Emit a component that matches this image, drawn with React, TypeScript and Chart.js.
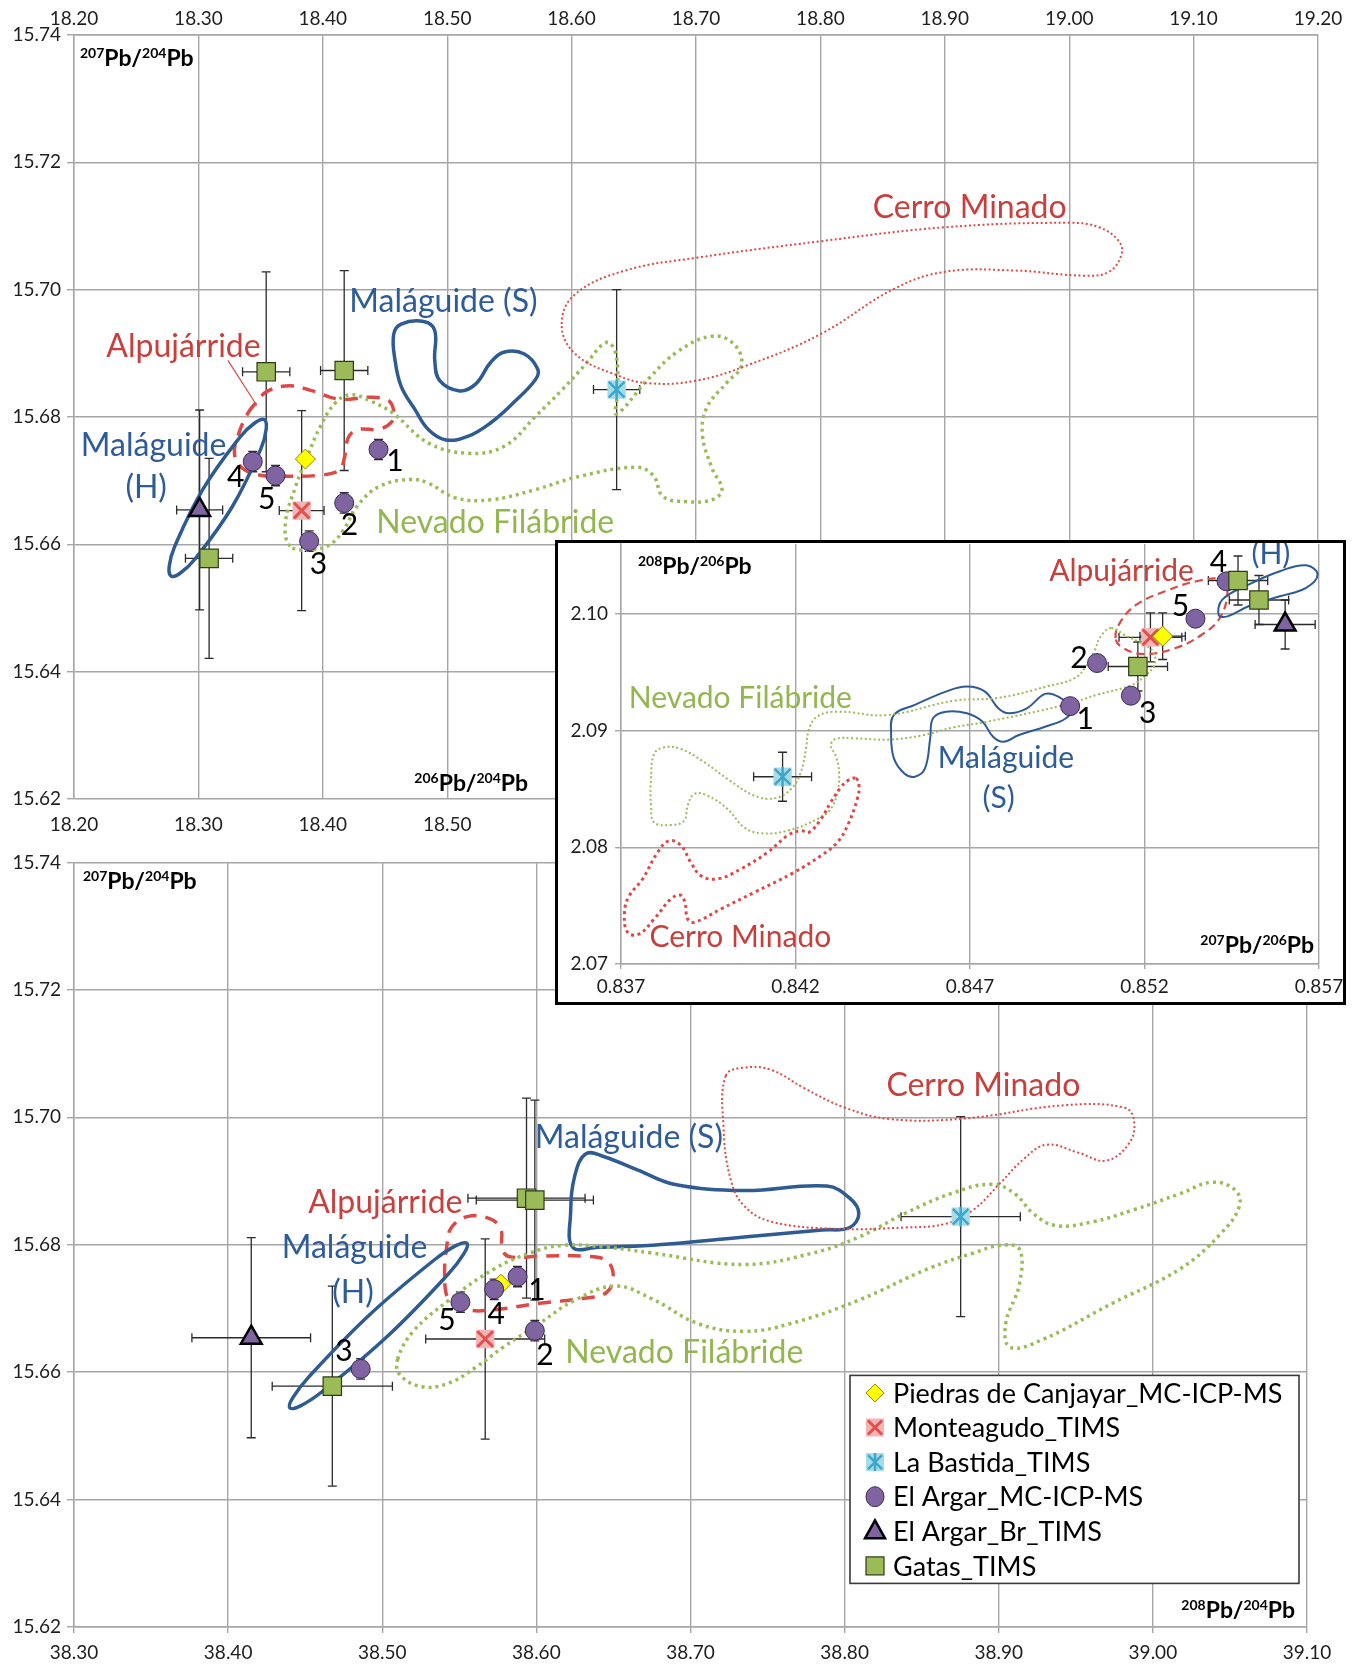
import React, { useEffect, useRef } from 'react';
import { Chart, registerables } from 'chart.js';

Chart.register(...registerables);

type Pair = [number, number];
type Obs = [number, number, number, number]; // x, y, x-error, y-error
type Lab = [string, number, number];

const FONT = 'Lato, "Open Sans", "DejaVu Sans", sans-serif';

// ================= Panel A : 206Pb/204Pb vs 207Pb/204Pb =================
const aXTicks = [18.2, 18.3, 18.4, 18.5, 18.6, 18.7, 18.8, 18.9, 19.0, 19.1, 19.2];
const aYTicks = [15.62, 15.64, 15.66, 15.68, 15.7, 15.72, 15.74];

const aPiedras: Obs[] = [[18.386, 15.6734, 0, 0]];
const aMonteagudo: Obs[] = [[18.383, 15.6653, 0.018, 0.0157]];
const aBastida: Obs[] = [[18.6362, 15.6843, 0.0186, 0.0157]];
const aArgarMC: Obs[] = [
  [18.4448, 15.6749, 0.002, 0.0016],
  [18.4172, 15.6665, 0.002, 0.0016],
  [18.389, 15.6605, 0.002, 0.0016],
  [18.3437, 15.673, 0.002, 0.0016],
  [18.362, 15.6708, 0.002, 0.0016],
];
const aArgarBr: Obs[] = [[18.301, 15.6654, 0.0185, 0.0157]];
const aGatas: Obs[] = [
  [18.3545, 15.6871, 0.019, 0.0157],
  [18.4172, 15.6873, 0.019, 0.0157],
  [18.3086, 15.6578, 0.019, 0.0157],
];

const aCerroMinado: Pair[] = [
  [18.592, 15.6946], [18.603, 15.6993], [18.643, 15.703], [18.7, 15.705], [18.8, 15.7076],
  [18.9, 15.7098], [19.0, 15.7105], [19.024, 15.7098], [19.04, 15.7076], [19.042, 15.7055],
  [19.032, 15.7028], [19.012, 15.7022], [18.957, 15.703], [18.9, 15.7028], [18.859, 15.7001],
  [18.8, 15.693], [18.741, 15.6881], [18.7, 15.6857], [18.662, 15.6853], [18.636, 15.6866],
  [18.603, 15.6899],
];
const aNevado: Pair[] = [
  [18.3738, 15.6597], [18.37, 15.6634], [18.378, 15.669], [18.387, 15.6735], [18.398, 15.6785],
  [18.41, 15.6822], [18.4222, 15.6835], [18.4384, 15.6825], [18.4563, 15.6806], [18.485, 15.6759],
  [18.517, 15.6743], [18.5459, 15.6754], [18.571, 15.6801], [18.5925, 15.6843], [18.61, 15.688],
  [18.628, 15.6917], [18.6355, 15.6899], [18.637, 15.684], [18.6362, 15.6805], [18.6618, 15.686],
  [18.6854, 15.6903], [18.713, 15.6927], [18.7307, 15.6914], [18.7366, 15.6881], [18.7248, 15.6854],
  [18.709, 15.6816], [18.7051, 15.6773], [18.713, 15.6719], [18.7209, 15.6686], [18.713, 15.667],
  [18.6933, 15.6667], [18.6736, 15.6675], [18.6657, 15.6708], [18.652, 15.6721], [18.6068, 15.6707],
  [18.571, 15.6686], [18.5351, 15.667], [18.5065, 15.6673], [18.485, 15.6696], [18.4706, 15.6702],
  [18.4455, 15.6691], [18.4276, 15.666], [18.4168, 15.6623], [18.406, 15.66], [18.3918, 15.6592],
];
const aMalaguideS: Pair[] = [
  [18.457, 15.693], [18.463, 15.6946], [18.481, 15.695], [18.49, 15.6936], [18.49, 15.6889],
  [18.494, 15.6857], [18.51, 15.6841], [18.523, 15.6852], [18.535, 15.6886], [18.546, 15.6902],
  [18.562, 15.6899], [18.5728, 15.6875], [18.571, 15.6859], [18.553, 15.6822], [18.535, 15.6791],
  [18.517, 15.677], [18.499, 15.6764], [18.485, 15.678], [18.474, 15.6812], [18.463, 15.6848],
  [18.458, 15.689],
];
const aMalaguideH: Pair[] = [
  [18.3529, 15.6796], [18.3545, 15.6781], [18.3502, 15.675], [18.3272, 15.6659], [18.2973, 15.6577],
  [18.2855, 15.6555], [18.2782, 15.655], [18.2765, 15.6565], [18.2808, 15.6596], [18.3038, 15.6687],
  [18.3337, 15.6769], [18.3455, 15.6791],
];
const aAlpujarride: Pair[] = [
  [18.3398, 15.6806], [18.3452, 15.682], [18.3559, 15.6841], [18.3738, 15.6849], [18.3918, 15.6841],
  [18.4133, 15.6828], [18.4384, 15.6831], [18.4527, 15.6826], [18.457, 15.681], [18.4556, 15.6793],
  [18.4455, 15.6781], [18.4276, 15.678], [18.4204, 15.6767], [18.4176, 15.6738], [18.4133, 15.6717],
  [18.399, 15.6709], [18.3703, 15.6707], [18.3487, 15.6709], [18.3344, 15.6721], [18.329, 15.6743],
  [18.3326, 15.6775],
];
const aAlpLeader: Pair[] = [[18.3237, 15.6889], [18.347, 15.6818]];
const aNumbers: Lab[] = [
  ['1', 18.458, 15.6731], ['2', 18.4215, 15.663], ['3', 18.3965, 15.6569], ['4', 18.33, 15.6705], ['5', 18.355, 15.6671],
];
const aRegions: Lab[] = [
  ['Cerro Minado', 18.92, 15.7129], ['Maláguide (S)', 18.497, 15.6981], ['Alpujárride', 18.288, 15.691],
  ['Maláguide', 18.264, 15.6755], ['(H)', 18.258, 15.6689], ['Nevado Filábride', 18.5386, 15.6634],
];

// ================= Panel B : 208Pb/204Pb vs 207Pb/204Pb =================
const bXTicks = [38.3, 38.4, 38.5, 38.6, 38.7, 38.8, 38.9, 39.0, 39.1];
const bYTicks = [15.62, 15.64, 15.66, 15.68, 15.7, 15.72, 15.74];

const bPiedras: Obs[] = [[38.577, 15.6738, 0, 0]];
const bMonteagudo: Obs[] = [[38.5668, 15.6652, 0.0386, 0.0157]];
const bBastida: Obs[] = [[38.8753, 15.6844, 0.0387, 0.0157]];
const bArgarMC: Obs[] = [
  [38.5878, 15.675, 0.003, 0.0016],
  [38.599, 15.6665, 0.003, 0.0016],
  [38.486, 15.6605, 0.003, 0.0016],
  [38.5726, 15.673, 0.003, 0.0016],
  [38.5507, 15.671, 0.003, 0.0016],
];
const bArgarBr: Obs[] = [[38.415, 15.6654, 0.0385, 0.0157]];
const bGatas: Obs[] = [
  [38.5936, 15.6873, 0.038, 0.0157],
  [38.599, 15.687, 0.038, 0.0157],
  [38.4676, 15.6578, 0.039, 0.0157],
];

const bCerroMinado: Pair[] = [
  [38.7229, 15.7065], [38.7348, 15.7078], [38.7527, 15.7074], [38.7735, 15.7046], [38.8003, 15.7015],
  [38.8301, 15.6997], [38.8777, 15.6998], [38.9432, 15.7019], [38.9818, 15.7015], [38.9878, 15.6994],
  [38.9848, 15.696], [38.9699, 15.6932], [38.9521, 15.6944], [38.9313, 15.6957], [38.9164, 15.6935],
  [38.9015, 15.6898], [38.8836, 15.6855], [38.8658, 15.6833], [38.839, 15.6827], [38.7943, 15.6825],
  [38.7527, 15.6836], [38.7348, 15.6861], [38.7259, 15.6904], [38.7214, 15.6985],
];
const bNevado: Pair[] = [
  [38.51, 15.662], [38.5201, 15.6664], [38.5434, 15.6713], [38.5726, 15.6762], [38.596, 15.6787],
  [38.6163, 15.6799], [38.6455, 15.6796], [38.6746, 15.6787], [38.7348, 15.6769], [38.7795, 15.6787],
  [38.8092, 15.6812], [38.839, 15.6849], [38.8688, 15.688], [38.8955, 15.6895], [38.9104, 15.688],
  [38.9223, 15.6849], [38.9372, 15.683], [38.961, 15.6836], [38.9878, 15.6855], [39.0176, 15.688],
  [39.0384, 15.6898], [39.0533, 15.6886], [39.0562, 15.6861], [39.0443, 15.6818], [39.0176, 15.6762],
  [38.9729, 15.6707], [38.9283, 15.6651], [38.9074, 15.6639], [38.9045, 15.6676], [38.9134, 15.6738],
  [38.9134, 15.6793], [38.9015, 15.6799], [38.8836, 15.6787], [38.8539, 15.6762], [38.8092, 15.6713],
  [38.7646, 15.6676], [38.7348, 15.6664], [38.7051, 15.6676], [38.675, 15.6715], [38.6513, 15.6735],
  [38.625, 15.6713], [38.6017, 15.6676], [38.5784, 15.6639], [38.5609, 15.6608], [38.5434, 15.6583],
  [38.526, 15.6577], [38.5114, 15.6596],
];
const bMalaguideS: Pair[] = [
  [38.6236, 15.6796], [38.6222, 15.6849], [38.6251, 15.691], [38.6324, 15.6943], [38.644, 15.6938],
  [38.6659, 15.6917], [38.6892, 15.6895], [38.7348, 15.6885], [38.7884, 15.6892], [38.8033, 15.6873],
  [38.8092, 15.6849], [38.8033, 15.6827], [38.7854, 15.6823], [38.7348, 15.6812], [38.6753, 15.6799],
  [38.64, 15.6796],
];
const bMalaguideH: Pair[] = [
  [38.555, 15.6802], [38.553, 15.6786], [38.5425, 15.6753], [38.5037, 15.6657], [38.4613, 15.657],
  [38.4469, 15.6547], [38.44, 15.6544], [38.442, 15.656], [38.4525, 15.6593], [38.4913, 15.6689],
  [38.5337, 15.6776], [38.5481, 15.6799],
];
const bAlpujarride: Pair[] = [
  [38.5405, 15.675], [38.542, 15.68], [38.5449, 15.6827], [38.5551, 15.6844], [38.5697, 15.6841],
  [38.577, 15.6824], [38.5778, 15.6793], [38.5828, 15.6781], [38.6017, 15.6782], [38.6309, 15.6782],
  [38.6455, 15.6775], [38.6499, 15.675], [38.6455, 15.6725], [38.6309, 15.6716], [38.6017, 15.6708],
  [38.5726, 15.6698], [38.5551, 15.6698], [38.5434, 15.6713],
];
const bNumbers: Lab[] = [
  ['1', 38.6003, 15.6728], ['2', 38.6055, 15.6627], ['3', 38.4752, 15.6632], ['4', 38.574, 15.6691], ['5', 38.542, 15.6682],
];
const bRegions: Lab[] = [
  ['Cerro Minado', 38.89, 15.705], ['Maláguide (S)', 38.66, 15.6968], ['Alpujárride', 38.502, 15.6866],
  ['Maláguide', 38.482, 15.6795], ['(H)', 38.481, 15.6725], ['Nevado Filábride', 38.696, 15.663],
];

// ================= Panel C (inset) : 207Pb/206Pb vs 208Pb/206Pb =================
const cXTicks = [0.837, 0.842, 0.847, 0.852, 0.857];
const cYTicks = [2.07, 2.08, 2.09, 2.1];

const cPiedras: Obs[] = [[0.85252, 2.0981, 0.00065, 0.002]];
const cMonteagudo: Obs[] = [[0.85217, 2.098, 0.0009, 0.0021]];
const cBastida: Obs[] = [[0.84163, 2.08605, 0.00083, 0.0021]];
const cArgarMC: Obs[] = [
  [0.84987, 2.0921, 0, 0],
  [0.85064, 2.0958, 0, 0],
  [0.85161, 2.093, 0, 0],
  [0.85435, 2.1028, 0, 0],
  [0.85346, 2.0996, 0, 0],
];
const cArgarBr: Obs[] = [[0.85603, 2.0991, 0.00086, 0.0021]];
const cGatas: Obs[] = [
  [0.85468, 2.10287, 0.00085, 0.0021],
  [0.85181, 2.0955, 0.00085, 0.0021],
  [0.85528, 2.1012, 0.00085, 0.0021],
];

const cCerroMinado: Pair[] = [
  [0.84373, 2.08591], [0.84382, 2.08529], [0.84377, 2.08414], [0.84349, 2.08186], [0.8432, 2.08043],
  [0.84273, 2.07929], [0.84196, 2.07786], [0.84082, 2.07614], [0.83986, 2.07471], [0.8391, 2.07357],
  [0.83891, 2.07386], [0.83883, 2.07529], [0.8387, 2.07591], [0.83843, 2.07557], [0.83795, 2.07386],
  [0.83752, 2.07257], [0.83719, 2.07271], [0.8371, 2.07443], [0.83724, 2.07586], [0.83762, 2.07729],
  [0.83805, 2.07957], [0.83838, 2.08057], [0.83872, 2.08014], [0.839, 2.07871], [0.83929, 2.07757],
  [0.83977, 2.07729], [0.84043, 2.07814], [0.8412, 2.07957], [0.84177, 2.081], [0.84215, 2.08143],
  [0.84239, 2.08129], [0.84273, 2.08243], [0.84301, 2.08386], [0.8433, 2.08514], [0.84349, 2.08571],
];
const cNevado: Pair[] = [
  [0.85104, 2.0988], [0.85075, 2.0981], [0.85056, 2.0968], [0.85032, 2.0955], [0.85, 2.0945],
  [0.84922, 2.0938], [0.84779, 2.0928], [0.84654, 2.09257], [0.84463, 2.09134], [0.8432, 2.09163],
  [0.84263, 2.09123], [0.84239, 2.09014], [0.8423, 2.08843], [0.84215, 2.08643], [0.84187, 2.085],
  [0.84139, 2.0842], [0.84082, 2.08443], [0.84005, 2.08586], [0.83939, 2.08729], [0.83872, 2.08843],
  [0.83824, 2.08857], [0.83795, 2.088], [0.83786, 2.08586], [0.83786, 2.08357], [0.83795, 2.08214],
  [0.83843, 2.08191], [0.83881, 2.08229], [0.83891, 2.08357], [0.8391, 2.08457], [0.83948, 2.08443],
  [0.84005, 2.08329], [0.84053, 2.08171], [0.84101, 2.0812], [0.84177, 2.08143], [0.84263, 2.08243],
  [0.84301, 2.08329], [0.8432, 2.08471], [0.84325, 2.08643], [0.84315, 2.08786], [0.84301, 2.08871],
  [0.84315, 2.08929], [0.84368, 2.08934], [0.84463, 2.08923], [0.84559, 2.08957], [0.84654, 2.09029],
  [0.8475, 2.09077], [0.8497, 2.0922], [0.85066, 2.0931], [0.85162, 2.0939], [0.85205, 2.0948],
  [0.85229, 2.0957], [0.85224, 2.0968], [0.8519, 2.0975], [0.85143, 2.0982],
];
const cMalaguideS: Pair[] = [
  [0.84482, 2.09135], [0.84542, 2.09221], [0.84631, 2.09335], [0.84691, 2.09378], [0.84743, 2.09335],
  [0.84781, 2.09192], [0.84811, 2.09149], [0.84863, 2.09192], [0.84915, 2.09315], [0.84953, 2.09292],
  [0.8499, 2.09192], [0.84975, 2.09106], [0.84915, 2.09034], [0.8484, 2.08963], [0.84796, 2.08905],
  [0.84766, 2.08948], [0.84736, 2.09077], [0.84691, 2.09149], [0.84631, 2.09163], [0.84594, 2.09106],
  [0.84586, 2.08934], [0.84571, 2.08676], [0.84542, 2.08605], [0.84512, 2.08633], [0.84482, 2.08762],
  [0.84474, 2.08963],
];
const cMalaguideH: Pair[] = [
  [0.85413, 2.09989], [0.85423, 2.10123], [0.85498, 2.10252], [0.85588, 2.10367], [0.85663, 2.10418],
  [0.85696, 2.10338], [0.85663, 2.10224], [0.85588, 2.10152], [0.85498, 2.10066], [0.85438, 2.0998],
];
const cAlpujarride: Pair[] = [
  [0.85117, 2.09794], [0.85132, 2.09937], [0.85177, 2.1008], [0.85259, 2.10195], [0.85349, 2.10281],
  [0.85423, 2.10295], [0.85438, 2.10195], [0.85416, 2.09966], [0.85364, 2.09822], [0.85289, 2.09708],
  [0.85199, 2.09656], [0.85139, 2.09708],
];
const cNumbers: Lab[] = [
  ['1', 0.8503, 2.091], ['2', 0.85012, 2.0962], ['3', 0.85209, 2.0915], ['4', 0.85412, 2.1044], ['5', 0.85303, 2.1007],
];
const cRegions: Lab[] = [
  ['Alpujárride', 0.85134, 2.1037], ['(H)', 0.85562, 2.1051], ['Nevado Filábride', 0.84042, 2.09278],
  ['Maláguide', 0.84803, 2.08762], ['(S)', 0.84782, 2.08416], ['Cerro Minado', 0.84042, 2.07229],
];

// ================= Legend =================
const legendLabels = [
  'Piedras de Canjayar_MC-ICP-MS',
  'Monteagudo_TIMS',
  'La Bastida_TIMS',
  'El Argar_MC-ICP-MS',
  'El Argar_Br_TIMS',
  'Gatas_TIMS',
];

// ================= styling =================
const C = {
  red: '#dc4a47',
  redText: '#c8403d',
  blue: '#2f5b93',
  blueText: '#2e5c98',
  green: '#9bbb59',
  greenText: '#92b650',
  grid: '#a6a6a6',
  tick: '#1e1e1e',
  yellow: '#ffff00',
  pink: '#f3b4b4',
  xRed: '#e0504d',
  lightBlue: '#a6dbe9',
  cyan: '#3ca7c9',
  purple: '#8064a2',
  purpleEdge: '#3b2a57',
  gatas: '#9bbb59',
  gatasEdge: '#2e3b17',
};

const xy = (arr: any[]) => arr.map((p) => ({ x: p[0], y: p[1] }));

function loop(points: Pair[], color: string, width: number, dash: number[]) {
  const n = points.length;
  const seq = [points[n - 1], ...points, points[0], points[1]];
  const last = seq.length - 2;
  return {
    data: xy(seq),
    showLine: true,
    pointRadius: 0,
    borderColor: color,
    borderWidth: width,
    borderDash: dash,
    tension: 0.4,
    fill: false,
    order: 20,
    segment: {
      borderColor: (ctx: any) => (ctx.p0DataIndex === 0 || ctx.p0DataIndex === last ? 'rgba(0,0,0,0)' : undefined),
    },
  };
}

function markerSets(s: any) {
  return [
    { data: xy(s.piedras), pointStyle: 'rectRot', pointRadius: 10, backgroundColor: C.yellow, borderColor: '#8f8200', borderWidth: 1, order: 7 },
    { data: xy(s.monteagudo), pointStyle: 'rect', pointRadius: 13, backgroundColor: C.pink, borderWidth: 0, order: 9 },
    { data: xy(s.monteagudo), pointStyle: 'crossRot', pointRadius: 11, borderColor: C.xRed, borderWidth: 3, order: 8 },
    { data: xy(s.bastida), pointStyle: 'rect', pointRadius: 13, backgroundColor: C.lightBlue, borderWidth: 0, order: 9 },
    { data: xy(s.bastida), pointStyle: 'crossRot', pointRadius: 11, borderColor: C.cyan, borderWidth: 2.5, order: 8 },
    { data: xy(s.bastida), pointStyle: 'line', pointRotation: 90, pointRadius: 10, borderColor: C.cyan, borderWidth: 2.5, order: 8 },
    { data: xy(s.argarMC), pointStyle: 'circle', pointRadius: 9.5, backgroundColor: C.purple, borderColor: C.purpleEdge, borderWidth: 1, order: 6 },
    { data: xy(s.argarBr), pointStyle: 'triangle', pointRadius: 12, backgroundColor: C.purple, borderColor: '#000', borderWidth: 2.5, order: 5 },
    { data: xy(s.gatas), pointStyle: 'rect', pointRadius: 13, backgroundColor: C.gatas, borderColor: C.gatasEdge, borderWidth: 1.2, order: 4 },
  ];
}

function regionColor(t: string) {
  if (t.startsWith('Cerro') || t.startsWith('Alpu')) return C.redText;
  if (t.startsWith('Nevado')) return C.greenText;
  return C.blueText;
}

function drawIso(ctx: any, parts: string[], x: number, y: number, align: 'left' | 'right') {
  const big = `bold 23px ${FONT}`;
  const small = `bold 14px ${FONT}`;
  let w = 0;
  parts.forEach((p, i) => {
    ctx.font = i % 2 === 0 ? small : big;
    w += ctx.measureText(p).width;
  });
  let cx = align === 'right' ? x - w : x;
  ctx.textAlign = 'left';
  ctx.textBaseline = 'alphabetic';
  ctx.fillStyle = '#000';
  parts.forEach((p, i) => {
    const sup = i % 2 === 0;
    ctx.font = sup ? small : big;
    ctx.fillText(p, cx, sup ? y - 8 : y);
    cx += ctx.measureText(p).width;
  });
}

function drawLegendMarker(ctx: any, i: number, x: number, y: number) {
  ctx.save();
  if (i === 0) {
    ctx.beginPath();
    ctx.moveTo(x, y - 9); ctx.lineTo(x + 9, y); ctx.lineTo(x, y + 9); ctx.lineTo(x - 9, y); ctx.closePath();
    ctx.fillStyle = C.yellow; ctx.fill(); ctx.strokeStyle = '#8f8200'; ctx.lineWidth = 1; ctx.stroke();
  } else if (i === 1 || i === 2) {
    ctx.fillStyle = i === 1 ? C.pink : C.lightBlue;
    ctx.fillRect(x - 9, y - 9, 18, 18);
    ctx.strokeStyle = i === 1 ? C.xRed : C.cyan;
    ctx.lineWidth = i === 1 ? 3 : 2.5;
    ctx.beginPath();
    ctx.moveTo(x - 7, y - 7); ctx.lineTo(x + 7, y + 7); ctx.moveTo(x + 7, y - 7); ctx.lineTo(x - 7, y + 7);
    if (i === 2) { ctx.moveTo(x, y - 9); ctx.lineTo(x, y + 9); }
    ctx.stroke();
  } else if (i === 3) {
    ctx.beginPath();
    ctx.ellipse(x, y, 9, 10, 0, 0, Math.PI * 2);
    ctx.fillStyle = C.purple; ctx.fill(); ctx.strokeStyle = C.purpleEdge; ctx.lineWidth = 1; ctx.stroke();
  } else if (i === 4) {
    ctx.beginPath();
    ctx.moveTo(x, y - 11); ctx.lineTo(x + 10, y + 7); ctx.lineTo(x - 10, y + 7); ctx.closePath();
    ctx.fillStyle = C.purple; ctx.fill(); ctx.strokeStyle = '#000'; ctx.lineWidth = 2.5; ctx.stroke();
  } else {
    ctx.fillStyle = C.gatas; ctx.fillRect(x - 9, y - 9, 18, 18);
    ctx.strokeStyle = C.gatasEdge; ctx.lineWidth = 1.2; ctx.strokeRect(x - 9, y - 9, 18, 18);
  }
  ctx.restore();
}

function decorPlugin(cfg: any) {
  return {
    id: 'decor',
    beforeDatasetsDraw(chart: any) {
      const { ctx } = chart;
      const sx = chart.scales.x;
      const sy = chart.scales.y;
      ctx.save();
      ctx.strokeStyle = '#2b2b2b';
      ctx.lineWidth = 1.3;
      const cap = 4.5;
      cfg.errors.forEach((ser: Obs[]) =>
        ser.forEach(([vx, vy, ex, ey]) => {
          const px = sx.getPixelForValue(vx);
          const py = sy.getPixelForValue(vy);
          ctx.beginPath();
          if (ex > 0) {
            const l = sx.getPixelForValue(vx - ex);
            const r = sx.getPixelForValue(vx + ex);
            ctx.moveTo(l, py); ctx.lineTo(r, py);
            ctx.moveTo(l, py - cap); ctx.lineTo(l, py + cap);
            ctx.moveTo(r, py - cap); ctx.lineTo(r, py + cap);
          }
          if (ey > 0) {
            const t = sy.getPixelForValue(vy + ey);
            const b = sy.getPixelForValue(vy - ey);
            ctx.moveTo(px, t); ctx.lineTo(px, b);
            ctx.moveTo(px - cap, t); ctx.lineTo(px + cap, t);
            ctx.moveTo(px - cap, b); ctx.lineTo(px + cap, b);
          }
          ctx.stroke();
        })
      );
      ctx.restore();
    },
    afterDatasetsDraw(chart: any) {
      const { ctx, chartArea: ca } = chart;
      const sx = chart.scales.x;
      const sy = chart.scales.y;
      ctx.save();
      ctx.textAlign = 'center';
      ctx.textBaseline = 'middle';
      cfg.regions.forEach(([t, vx, vy]: Lab) => {
        ctx.font = `${cfg.regionFont}px ${FONT}`;
        ctx.fillStyle = regionColor(t);
        ctx.fillText(t, sx.getPixelForValue(vx), sy.getPixelForValue(vy));
      });
      cfg.numbers.forEach(([t, vx, vy]: Lab) => {
        ctx.font = `${cfg.numberFont}px ${FONT}`;
        ctx.fillStyle = '#000';
        ctx.fillText(t, sx.getPixelForValue(vx), sy.getPixelForValue(vy));
      });
      cfg.titles.forEach((tt: any) => {
        const x = tt.from === 'left' ? ca.left + tt.dx : ca.right + tt.dx;
        const y = tt.fromY === 'top' ? ca.top + tt.dy : ca.bottom + tt.dy;
        drawIso(ctx, tt.parts, x, y, tt.align);
      });
      if (cfg.legend) {
        const L = cfg.legend;
        const left = ca.right + L.dx;
        const top = ca.top + L.dy;
        ctx.fillStyle = '#fff';
        ctx.fillRect(left, top, L.w, L.h);
        ctx.strokeStyle = '#3a3a3a';
        ctx.lineWidth = 1.6;
        ctx.strokeRect(left, top, L.w, L.h);
        ctx.font = `${L.font}px ${FONT}`;
        ctx.textAlign = 'left';
        ctx.textBaseline = 'middle';
        legendLabels.forEach((lab, i) => {
          const yy = top + L.first + i * L.step;
          drawLegendMarker(ctx, i, left + 25, yy);
          ctx.fillStyle = '#000';
          ctx.fillText(lab, left + 43, yy + 1);
        });
      }
      ctx.restore();
    },
  };
}

function axisBase(ticksArr: number[], dec: number, extra: any) {
  return {
    type: 'linear',
    afterBuildTicks: (s: any) => {
      s.ticks = ticksArr.map((v) => ({ value: v }));
    },
    ticks: {
      callback: (v: any) => Number(v).toFixed(dec),
      font: { family: FONT, size: 19 },
      color: C.tick,
      autoSkip: false,
      maxRotation: 0,
      includeBounds: false,
    },
    grid: { color: C.grid, lineWidth: 1.4 },
    border: { color: C.grid, width: 1.4 },
    ...extra,
  };
}

function merge(a: any, b: any) {
  return { ...a, ...b, ticks: { ...a.ticks, ...(b.ticks || {}) }, grid: { ...a.grid, ...(b.grid || {}) } };
}

function baseOptions(scales: any, padding: any) {
  return {
    responsive: false,
    animation: false,
    devicePixelRatio: 1,
    events: [],
    layout: { padding, autoPadding: false },
    plugins: { legend: { display: false }, tooltip: { enabled: false } },
    scales,
  };
}

function topConfig(): any {
  const xTop = merge(axisBase(aXTicks, 2, { position: 'top', min: 18.2, max: 19.2 }), {
    ticks: { padding: 5 },
    grid: { drawTicks: false },
    afterFit: (s: any) => { s.height = 35; },
  });
  const xBot = merge(axisBase(aXTicks, 2, { position: 'bottom', min: 18.2, max: 19.2 }), {
    // labels right of 18.50 sit under the inset box
    ticks: { padding: 14, callback: (v: any) => (Number(v) < 18.55 ? Number(v).toFixed(2) : '') },
    grid: { display: false, drawTicks: false },
    afterFit: (s: any) => { s.height = 51; },
  });
  xBot.border = { display: false };
  const y = merge(axisBase(aYTicks, 2, { position: 'left', min: 15.62, max: 15.74 }), {
    ticks: { padding: 6 },
    grid: { tickLength: 7 },
    afterFit: (s: any) => { s.width = 74; },
  });
  const datasets = [
    loop(aCerroMinado, C.red, 2, [2, 2.5]),
    loop(aNevado, C.green, 3.5, [3, 4]),
    loop(aMalaguideS, C.blue, 3.5, []),
    loop(aMalaguideH, C.blue, 3.5, []),
    loop(aAlpujarride, C.red, 3.5, [13, 9]),
    { data: xy(aAlpLeader), showLine: true, pointRadius: 0, borderColor: C.red, borderWidth: 1.2, order: 20 },
    ...markerSets({ piedras: aPiedras, monteagudo: aMonteagudo, bastida: aBastida, argarMC: aArgarMC, argarBr: aArgarBr, gatas: aGatas }),
  ];
  return {
    type: 'scatter',
    data: { datasets },
    options: baseOptions({ x: xTop, x2: xBot, y }, { left: 0, right: 51, top: 0, bottom: 0 }),
    plugins: [
      decorPlugin({
        errors: [aPiedras, aMonteagudo, aBastida, aArgarMC, aArgarBr, aGatas],
        regions: aRegions,
        numbers: aNumbers,
        regionFont: 32,
        numberFont: 30,
        titles: [
          { parts: ['207', 'Pb/', '204', 'Pb'], from: 'left', dx: 6, fromY: 'top', dy: 31, align: 'left' },
          { parts: ['206', 'Pb/', '204', 'Pb'], from: 'left', dx: 454, fromY: 'bottom', dy: -8, align: 'right' },
        ],
      }),
    ],
  };
}

function bottomConfig(): any {
  const x = merge(axisBase(bXTicks, 2, { position: 'bottom', min: 38.3, max: 39.1 }), {
    ticks: { padding: 8 },
    grid: { tickLength: 6 },
    afterFit: (s: any) => { s.height = 40; },
  });
  const y = merge(axisBase(bYTicks, 2, { position: 'left', min: 15.62, max: 15.74 }), {
    ticks: { padding: 6 },
    grid: { tickLength: 7 },
    afterFit: (s: any) => { s.width = 74; },
  });
  const datasets = [
    loop(bCerroMinado, C.red, 2, [2, 2.5]),
    loop(bNevado, C.green, 3.5, [3, 4]),
    loop(bMalaguideS, C.blue, 3.5, []),
    loop(bMalaguideH, C.blue, 3.5, []),
    loop(bAlpujarride, C.red, 3.5, [13, 9]),
    ...markerSets({ piedras: bPiedras, monteagudo: bMonteagudo, bastida: bBastida, argarMC: bArgarMC, argarBr: bArgarBr, gatas: bGatas }),
  ];
  return {
    type: 'scatter',
    data: { datasets },
    options: baseOptions({ x, y }, { left: 0, right: 62, top: 17, bottom: 0 }),
    plugins: [
      decorPlugin({
        errors: [bPiedras, bMonteagudo, bBastida, bArgarMC, bArgarBr, bGatas],
        regions: bRegions,
        numbers: bNumbers,
        regionFont: 32,
        numberFont: 30,
        titles: [
          { parts: ['207', 'Pb/', '204', 'Pb'], from: 'left', dx: 9, fromY: 'top', dy: 27, align: 'left' },
          { parts: ['208', 'Pb/', '204', 'Pb'], from: 'right', dx: -12, fromY: 'bottom', dy: -9, align: 'right' },
        ],
        legend: { dx: -457, dy: 513, w: 449, h: 208, first: 17.5, step: 34.6, font: 27 },
      }),
    ],
  };
}

function insetConfig(): any {
  const x = merge(axisBase(cXTicks, 3, { position: 'bottom', min: 0.837, max: 0.857 }), {
    ticks: { padding: 6 },
    grid: { tickLength: 5 },
    afterFit: (s: any) => { s.height = 38; s.paddingLeft = 0; s.paddingRight = 0; },
  });
  const y = merge(axisBase(cYTicks, 2, { position: 'left', min: 2.07, max: 2.106 }), {
    ticks: { padding: 7 },
    grid: { tickLength: 6 },
    afterFit: (s: any) => { s.width = 63; s.paddingTop = 0; s.paddingBottom = 0; },
  });
  const datasets = [
    loop(cCerroMinado, C.red, 3, [3, 3.5]),
    loop(cNevado, C.green, 2, [2, 2.5]),
    loop(cMalaguideS, C.blue, 2, []),
    loop(cMalaguideH, C.blue, 2, []),
    loop(cAlpujarride, C.red, 2.2, [8, 5]),
    ...markerSets({ piedras: cPiedras, monteagudo: cMonteagudo, bastida: cBastida, argarMC: cArgarMC, argarBr: cArgarBr, gatas: cGatas }),
  ];
  return {
    type: 'scatter',
    data: { datasets },
    options: baseOptions({ x, y }, { left: 0, right: 24, top: 1, bottom: 0 }),
    plugins: [
      decorPlugin({
        errors: [cPiedras, cMonteagudo, cBastida, cArgarMC, cArgarBr, cGatas],
        regions: cRegions,
        numbers: cNumbers,
        regionFont: 30,
        numberFont: 30,
        titles: [
          { parts: ['208', 'Pb/', '206', 'Pb'], from: 'left', dx: 17, fromY: 'top', dy: 30, align: 'left' },
          { parts: ['207', 'Pb/', '206', 'Pb'], from: 'right', dx: -5, fromY: 'bottom', dy: -11, align: 'right' },
        ],
      }),
    ],
  };
}

export default function App() {
  const topRef = useRef<HTMLCanvasElement>(null);
  const botRef = useRef<HTMLCanvasElement>(null);
  const insRef = useRef<HTMLCanvasElement>(null);

  useEffect(() => {
    const charts = [
      new Chart(topRef.current as HTMLCanvasElement, topConfig()),
      new Chart(botRef.current as HTMLCanvasElement, bottomConfig()),
      new Chart(insRef.current as HTMLCanvasElement, insetConfig()),
    ];
    return () => charts.forEach((c) => c.destroy());
  }, []);

  return (
    <div style={{ position: 'absolute', left: 0, top: 0, width: 1369, height: 1667, background: '#fff', overflow: 'hidden' }}>
      <canvas ref={topRef} width={1369} height={850} style={{ position: 'absolute', left: 0, top: 0, width: 1369, height: 850, display: 'block' }} />
      <canvas ref={botRef} width={1369} height={822} style={{ position: 'absolute', left: 0, top: 845, width: 1369, height: 822, display: 'block' }} />
      <div style={{ position: 'absolute', left: 555, top: 540, width: 791, height: 465, boxSizing: 'border-box', border: '3px solid #000', background: '#fff' }}>
        <canvas ref={insRef} width={785} height={459} style={{ position: 'absolute', left: 0, top: 0, width: 785, height: 459, display: 'block' }} />
      </div>
    </div>
  );
}
